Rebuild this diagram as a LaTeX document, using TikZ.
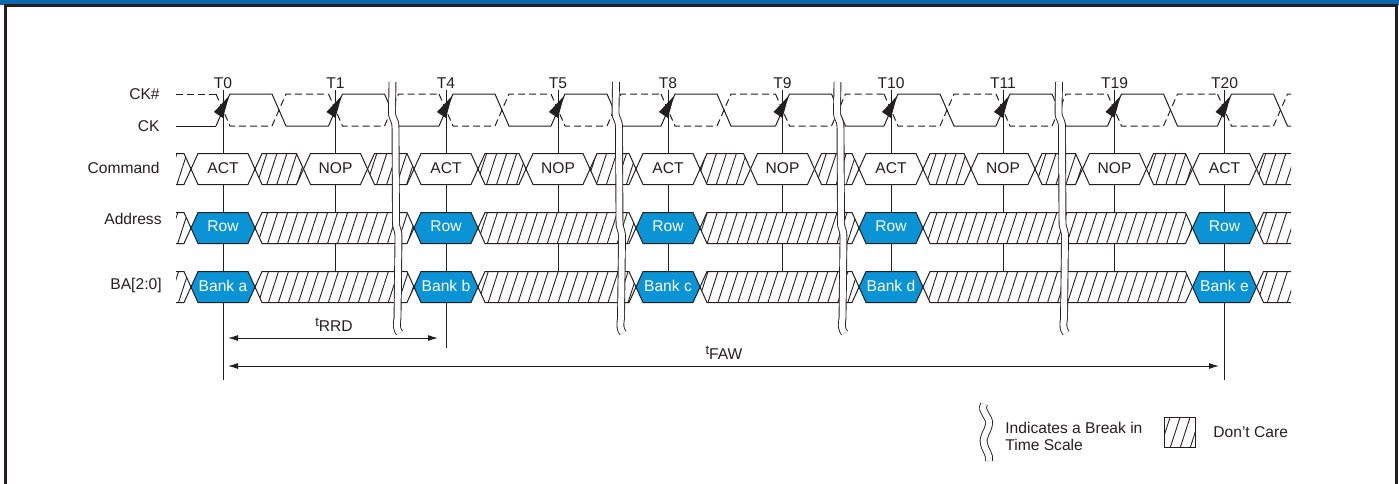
\documentclass[tikz,border=0pt]{standalone}
\usepackage{fontspec}
\setmainfont{Liberation Sans}
\usetikzlibrary{arrows.meta,patterns.meta}
\definecolor{ddInk}{HTML}{231F20}
\definecolor{ddBar}{HTML}{0B68AC}
\definecolor{ddBlue}{HTML}{0A94D6}
\tikzset{
  dd frame/.style={draw=ddInk, line width=1.5pt},
  dd sig/.style={draw=ddInk, line width=0.5pt},
  dd clkn/.style={dd sig, dash pattern=on 3.5pt off 2pt},
  dd cmd/.style={dd sig, fill=white},
  dd val/.style={dd sig, fill=ddBlue},
  dd hatch/.style={dd sig, preaction={fill=white}, pattern={Lines[angle=72,distance=4.75pt,line width=0.45pt]}, pattern color=ddInk},
  dd tline/.style={draw=ddInk, line width=0.5pt},
  dd break/.style={draw=ddInk, line width=0.45pt, double=white, double distance=3pt},
  dd dim/.style={draw=ddInk, line width=0.5pt, {Latex[length=5pt,width=3pt]}-{Latex[length=5pt,width=3pt]}},
  dd label/.style={font=\fontsize{7.8}{9}\selectfont, text=ddInk, inner sep=0pt, anchor=base},
  dd white/.style={dd label, text=white},
}
% one bus window between two crossings
\newcommand{\ddbus}[4]{%
  \path[#1] (#2,#4) -- (#2+7,#4-15.5) -- (#3-7,#4-15.5) -- (#3,#4)
    -- (#3-7,#4+15.5) -- (#2+7,#4+15.5) -- cycle;}
% open don't-care pieces at both ends of a row
\newcommand{\ddstart}[2]{%
  \path[dd hatch, draw=none] (176,#2-15.5) -- (#1-7,#2-15.5) -- (#1,#2) -- (#1-7,#2+15.5) -- (176,#2+15.5) -- cycle;
  \draw[dd sig] (176,#2-15.5) -- (#1-7,#2-15.5) -- (#1,#2) -- (#1-7,#2+15.5) -- (176,#2+15.5);}
\newcommand{\ddend}[2]{%
  \path[dd hatch, draw=none] (1291,#2-15.5) -- (#1+7,#2-15.5) -- (#1,#2) -- (#1+7,#2+15.5) -- (1291,#2+15.5) -- cycle;
  \draw[dd sig] (1291,#2-15.5) -- (#1+7,#2-15.5) -- (#1,#2) -- (#1+7,#2+15.5) -- (1291,#2+15.5);}

\begin{document}
\begin{tikzpicture}[x=0.5pt,y=-0.5pt]
  \useasboundingbox (0,0) rectangle (1399,483);
  % frame
  \fill[ddBar] (0,0) rectangle (1399,4.5);
  \draw[dd frame] (5.5,485) -- (5.5,5.8) -- (1396,5.8) -- (1396,485);

  % clock ticks and labels
  \foreach \t/\n/\e in {223/T0/380,335.5/T1/290,446/T4/348,558/T5/290,668/T8/290,
      782.5/T9/290,891/T10/290,1003/T11/290,1114.5/T19/290,1224.5/T20/380} {
    \draw[dd tline] (\t,90) -- (\t,\e);
    \node[dd label] (lbl\n) at (\t,88.5) {\n};
  }

  % signal names
  \node[dd label, anchor=base east] (ckn) at (160,99.5) {CK\#};
  \node[dd label, anchor=base east] (ck) at (160,131.5) {CK};
  \node[dd label, anchor=base east] (cmd) at (160,173.5) {Command};
  \node[dd label, anchor=base east] (addr) at (162,224.5) {Address};
  \node[dd label, anchor=base east] (ba) at (162,289.5) {BA[2:0]};

  % command bus
  \ddstart{191}{169}
  \foreach \a/\b in {255/303.5,367.5/414,478/526,590/636,700/750.5,814.5/859,
      923/971,1035/1082.5,1146.5/1192.5}
    \ddbus{dd hatch}{\a}{\b}{169};
  \ddend{1256.5}{169}
  \foreach \t/\c [count=\i] in {223/ACT,335.5/NOP,446/ACT,558/NOP,668/ACT,
      782.5/NOP,891/ACT,1003/NOP,1114.5/NOP,1224.5/ACT} {
    \ddbus{dd cmd}{\t-32}{\t+32}{169};
    \node[dd label] (cmd\i) at (\t,173.5) {\c};
  }

  % address and bank buses
  \foreach \y in {228,287} {
    \ddstart{191}{\y}
    \foreach \a/\b in {255/414,478/636,700/859,923/1192.5}
      \ddbus{dd hatch}{\a}{\b}{\y};
    \ddend{1256.5}{\y}
  }
  \foreach \t/\k [count=\i] in {223/a,446/b,668/c,891/d,1224.5/e} {
    \ddbus{dd val}{\t-32}{\t+32}{228};
    \ddbus{dd val}{\t-32}{\t+32}{287};
    \node[dd white] (row\i) at (\t,231.5) {Row};
    \node[dd white] (bank\i) at (\t,291.5) {Bank \k};
  }

  % CK and CK#
  \draw[dd sig] (176,126) -- (216,126);
  \draw[dd clkn] (176,94) -- (216,94);
  \foreach \t/\n in {223/335.5,335.5/446,446/558,558/668,668/782.5,782.5/891,
      891/1003,1003/1114.5,1114.5/1224.5,1224.5/1298} {
    \draw[dd sig] (\t-7,126) -- (\t+7,94) -- (\t+49,94) -- (\t+63,126) -- (\n-7,126);
    \draw[dd clkn] (\t-7,94) -- (\t+7,126) -- (\t+49,126) -- (\t+63,94) -- (\n-7,94);
    \fill[ddInk] (\t+6,96) -- (\t-9,112) -- (\t,118) -- cycle;
  }

  % breaks in time scale
  \foreach \b in {392.5,616,837.5,1059}
    \draw[dd break] (\b,82) -- (\b-0.5,112) .. controls (\b-0.5,120) and (\b+3,118) .. (\b+3,128)
      -- (\b+3.5,222) .. controls (\b+3.5,230) and (\b+6,228) .. (\b+6,238)
      -- (\b+5,318) .. controls (\b+4,326) and (\b+4,329) .. (\b+7,333);

  % timing parameters
  \coordinate (rrdA) at (228,338);
  \coordinate (rrdB) at (438,338);
  \coordinate (fawA) at (228,366);
  \coordinate (fawB) at (1219,366);
  \draw[dd dim] (rrdA) -- (rrdB);
  \draw[dd dim] (fawA) -- (fawB);
  \node[dd label] (trrd) at (334,331.5) {{\fontsize{6.5}{6.5}\selectfont\raisebox{2.4pt}{t}}RRD};
  \node[dd label] (tfaw) at (724,359) {{\fontsize{6.5}{6.5}\selectfont\raisebox{2.4pt}{t}}FAW};

  % legend
  \draw[dd break] (984,404) .. controls (980,412) and (990,416) .. (989,424)
    .. controls (988,432) and (982,436) .. (984,444) .. controls (986,452) and (990,454) .. (989,461);
  \node[dd label, anchor=base west] (brk1) at (1005,433) {Indicates a Break in};
  \node[dd label, anchor=base west] (brk2) at (1005,450) {Time Scale};
  \path[dd hatch] (1164,417) rectangle (1195,447);
  \node[dd label, anchor=base west] (dc) at (1213,437) {Don't Care};
\end{tikzpicture}
\end{document}
